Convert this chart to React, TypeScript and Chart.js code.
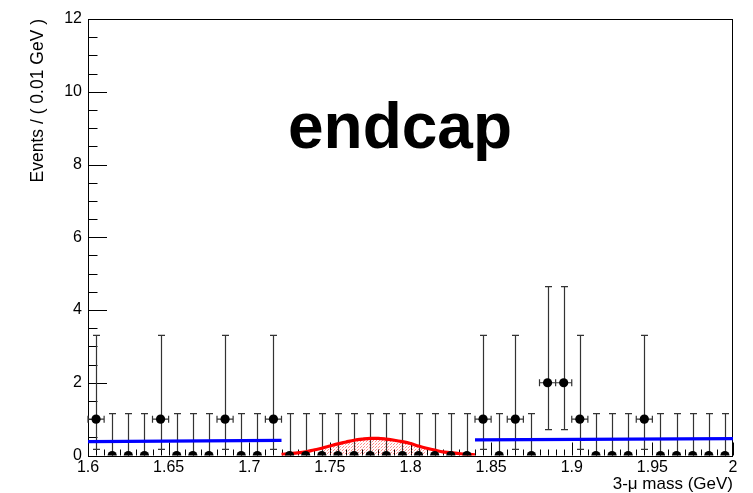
import React, { useEffect, useRef } from 'react';
import { Chart, registerables } from 'chart.js';

Chart.register(...registerables);

// ---- data ----
const binCenters = [
  1.605, 1.615, 1.625, 1.635, 1.645, 1.655, 1.665, 1.675, 1.685, 1.695,
  1.705, 1.715, 1.725, 1.735, 1.745, 1.755, 1.765, 1.775, 1.785, 1.795,
  1.805, 1.815, 1.825, 1.835, 1.845, 1.855, 1.865, 1.875, 1.885, 1.895,
  1.905, 1.915, 1.925, 1.935, 1.945, 1.955, 1.965, 1.975, 1.985, 1.995,
];
const counts = [
  1, 0, 0, 0, 1, 0, 0, 0, 1, 0,
  0, 1, 0, 0, 0, 0, 0, 0, 0, 0,
  0, 0, 0, 0, 1, 0, 1, 0, 2, 2,
  1, 0, 0, 0, 1, 0, 0, 0, 0, 0,
];
// asymmetric Poisson errors per count (low, high)
const poissonLow: Record<number, number> = { 0: 0, 1: 0.83, 2: 1.29 };
const poissonHigh: Record<number, number> = { 0: 1.15, 1: 2.3, 2: 2.64 };
const binHalfWidth = 0.005;

// background fit (two sidebands)
const bkgLeftX = [1.6, 1.72];
const bkgLeftY = [0.38, 0.415];
const bkgRightX = [1.84, 2.0];
const bkgRightY = [0.43, 0.465];

// signal curve
const sigX = [
  1.72, 1.725, 1.73, 1.735, 1.74, 1.745, 1.75, 1.755, 1.76, 1.765, 1.77, 1.775,
  1.78, 1.785, 1.79, 1.795, 1.8, 1.805, 1.81, 1.815, 1.82, 1.825, 1.83, 1.835, 1.84,
];
const sigY = [
  0.03, 0.05, 0.07, 0.1, 0.15, 0.2, 0.26, 0.32, 0.37, 0.42, 0.45, 0.47,
  0.47, 0.45, 0.42, 0.38, 0.33, 0.26, 0.2, 0.15, 0.1, 0.08, 0.05, 0.03, 0.02,
];
const sigFillFrom = 1.745;
const sigFillTo = 1.81;

const xTickValues = [1.6, 1.65, 1.7, 1.75, 1.8, 1.85, 1.9, 1.95, 2.0];
const xTickLabels = ['1.6', '1.65', '1.7', '1.75', '1.8', '1.85', '1.9', '1.95', '2'];
const yTickValues = [0, 2, 4, 6, 8, 10, 12];
const yTickLabels = ['0', '2', '4', '6', '8', '10', '12'];

const xTitle = '3-\u03BC mass (GeV)';
const yTitle = 'Events / ( 0.01 GeV )';
const labelText = 'endcap';

const FONT = '"Liberation Sans", Arial, Helvetica, sans-serif';

function makePattern(): CanvasPattern | string {
  const c = document.createElement('canvas');
  c.width = 3;
  c.height = 3;
  const g = c.getContext('2d');
  if (!g) return 'rgba(255,0,0,0.2)';
  g.fillStyle = 'rgba(255,0,0,0.45)';
  g.fillRect(0, 0, 1, 1);
  g.fillRect(1, 2, 1, 1);
  g.fillStyle = 'rgba(255,0,0,0.12)';
  g.fillRect(2, 1, 1, 1);
  const p = g.createPattern(c, 'repeat');
  return p || 'rgba(255,0,0,0.2)';
}

const rootPlugin = {
  id: 'rootDeco',
  beforeDatasetsDraw(chart: any) {
    const { ctx, chartArea: a, scales } = chart;
    const x = scales.x;
    const y = scales.y;
    ctx.save();
    // frame
    ctx.strokeStyle = '#000';
    ctx.lineWidth = 1;
    ctx.strokeRect(Math.round(a.left) + 0.5, Math.round(a.top) + 0.5,
      Math.round(a.right - a.left) - 1, Math.round(a.bottom - a.top));
    // y ticks (inward)
    ctx.beginPath();
    for (let i = 0; i <= 24; i++) {
      const v = i * 0.5;
      const py = Math.round(y.getPixelForValue(v)) + 0.5;
      const len = i % 4 === 0 ? 19 : 9.5;
      ctx.moveTo(a.left, py);
      ctx.lineTo(a.left + len, py);
    }
    // x ticks (inward)
    for (let i = 0; i <= 80; i++) {
      const v = 1.6 + i * 0.005;
      const px = Math.round(x.getPixelForValue(v)) + 0.5;
      const len = i % 10 === 0 ? 13 : i % 5 === 0 ? 8 : 6;
      ctx.moveTo(px, a.bottom);
      ctx.lineTo(px, a.bottom - len);
    }
    ctx.stroke();

    // error bars
    ctx.strokeStyle = '#333';
    ctx.lineWidth = 1.2;
    ctx.beginPath();
    for (let i = 0; i < binCenters.length; i++) {
      const c = counts[i];
      const px = Math.round(x.getPixelForValue(binCenters[i])) + 0.5;
      const yHi = y.getPixelForValue(c + poissonHigh[c]);
      const yLo = y.getPixelForValue(c - poissonLow[c]);
      ctx.moveTo(px, yLo);
      ctx.lineTo(px, yHi);
      ctx.moveTo(px - 3.5, yHi);
      ctx.lineTo(px + 3.5, yHi);
      if (c > 0) {
        ctx.moveTo(px - 3.5, yLo);
        ctx.lineTo(px + 3.5, yLo);
        const py = y.getPixelForValue(c);
        const xl = x.getPixelForValue(binCenters[i] - binHalfWidth);
        const xr = x.getPixelForValue(binCenters[i] + binHalfWidth);
        ctx.moveTo(xl, py);
        ctx.lineTo(xr, py);
        ctx.moveTo(xl, py - 3.5);
        ctx.lineTo(xl, py + 3.5);
        ctx.moveTo(xr, py - 3.5);
        ctx.lineTo(xr, py + 3.5);
      }
    }
    ctx.stroke();
    ctx.restore();
  },
  afterDraw(chart: any) {
    const { ctx } = chart;
    ctx.save();
    ctx.fillStyle = '#000';
    ctx.font = `bold 64px ${FONT}`;
    ctx.textAlign = 'center';
    ctx.textBaseline = 'alphabetic';
    ctx.fillText(labelText, 400, 148);
    ctx.restore();
  },
};

export default function App() {
  const canvasRef = useRef<HTMLCanvasElement | null>(null);

  useEffect(() => {
    const canvas = canvasRef.current;
    if (!canvas) return;
    const pattern = makePattern();
    const points = binCenters.map((b, i) => ({ x: b, y: counts[i] }));
    const bkgL = bkgLeftX.map((v, i) => ({ x: v, y: bkgLeftY[i] }));
    const bkgR = bkgRightX.map((v, i) => ({ x: v, y: bkgRightY[i] }));
    const sig = sigX.map((v, i) => ({ x: v, y: sigY[i] }));
    const sigFill = sig.filter((p) => p.x >= sigFillFrom - 1e-9 && p.x <= sigFillTo + 1e-9);

    const chart = new Chart(canvas, {
      type: 'line',
      data: {
        datasets: [
          {
            label: 'data',
            data: points,
            showLine: false,
            pointRadius: 4.6,
            pointHoverRadius: 4.6,
            pointBackgroundColor: '#000',
            pointBorderWidth: 0,
            borderColor: '#000',
            order: 0,
          },
          {
            label: 'bkg left',
            data: bkgL,
            borderColor: '#0000ff',
            borderWidth: 3.2,
            pointRadius: 0,
            fill: false,
            order: 1,
          },
          {
            label: 'bkg right',
            data: bkgR,
            borderColor: '#0000ff',
            borderWidth: 3.2,
            pointRadius: 0,
            fill: false,
            order: 1,
          },
          {
            label: 'signal',
            data: sig,
            borderColor: '#ff0000',
            borderWidth: 3.2,
            pointRadius: 0,
            fill: false,
            cubicInterpolationMode: 'monotone',
            order: 2,
          },
          {
            label: 'signal fill',
            data: sigFill,
            borderWidth: 0,
            borderColor: 'rgba(0,0,0,0)',
            backgroundColor: pattern as any,
            pointRadius: 0,
            fill: 'origin',
            cubicInterpolationMode: 'monotone',
            order: 3,
          },
        ],
      },
      options: {
        responsive: false,
        animation: false,
        devicePixelRatio: 1,
        layout: { padding: { left: 0, right: 20, top: 19, bottom: 0 } },
        plugins: { legend: { display: false }, tooltip: { enabled: false } },
        events: [],
        scales: {
          x: {
            type: 'linear',
            min: 1.6,
            max: 2.0,
            grid: { display: false, drawTicks: false },
            border: { display: false },
            afterBuildTicks: (scale: any) => {
              scale.ticks = xTickValues.map((v) => ({ value: v }));
            },
            afterFit: (scale: any) => {
              scale.height = 37.5;
            },
            ticks: {
              autoSkip: false,
              maxRotation: 0,
              padding: 2,
              color: '#000',
              font: { family: FONT, size: 16 },
              callback: (_v: any, i: number) => xTickLabels[i],
            },
            title: {
              display: true,
              text: xTitle,
              align: 'end',
              color: '#000',
              font: { family: FONT, size: 17, lineHeight: 1 },
              padding: { top: 0, bottom: 0 },
            },
          },
          y: {
            type: 'linear',
            min: 0,
            max: 12,
            grid: { display: false, drawTicks: false },
            border: { display: false },
            afterBuildTicks: (scale: any) => {
              scale.ticks = yTickValues.map((v) => ({ value: v }));
            },
            afterFit: (scale: any) => {
              scale.width = 88;
            },
            ticks: {
              autoSkip: false,
              padding: 6,
              color: '#000',
              font: { family: FONT, size: 16 },
              callback: (_v: any, i: number) => yTickLabels[i],
            },
            title: {
              display: true,
              text: yTitle,
              align: 'end',
              color: '#000',
              font: { family: FONT, size: 17.5, lineHeight: 1 },
              padding: { top: 29.75, bottom: 0 },
            },
          },
        },
      },
      plugins: [rootPlugin],
    } as any);
    return () => chart.destroy();
  }, []);

  return (
    <div style={{ position: 'fixed', left: 0, top: 0, width: 753, height: 493, background: '#fff' }}>
      <canvas ref={canvasRef} width={753} height={493} style={{ display: 'block', width: 753, height: 493 }} />
    </div>
  );
}
